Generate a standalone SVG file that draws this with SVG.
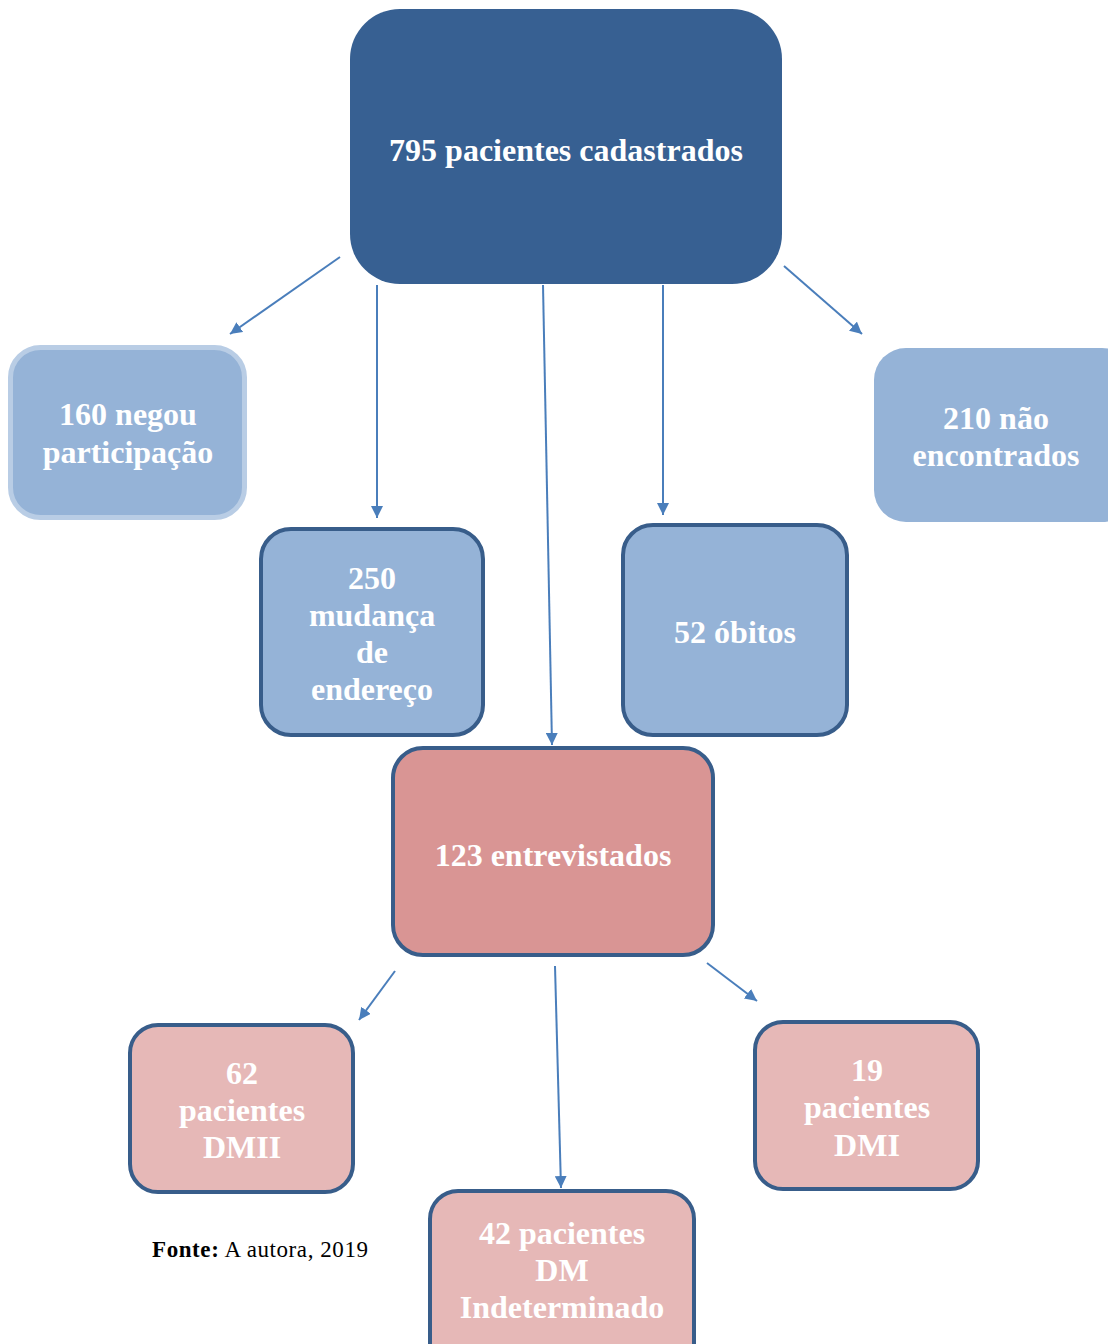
<svg xmlns="http://www.w3.org/2000/svg" width="1108" height="1344" viewBox="0 0 1108 1344">
<defs>
<marker id="ah" viewBox="0 0 10 10" refX="10" refY="5" markerWidth="6" markerHeight="6" orient="auto" markerUnits="strokeWidth">
<path d="M0,0 L10,5 L0,10 z" fill="#4A7EBB"/>
</marker>
<style>
.t{font-family:"Liberation Serif","Times New Roman",serif;font-weight:bold;font-size:32px;fill:#ffffff;text-anchor:middle}
.blue{fill:#95B3D7}
.pinkd{fill:#D99594}
.pink{fill:#E6B8B7}
.bd{stroke:#385D8A;stroke-width:4}
.c{stroke:#4A7EBB;stroke-width:2;fill:none;marker-end:url(#ah)}
</style>
</defs>
<rect width="1108" height="1344" fill="#ffffff"/>
<g id="connectors">
<line class="c" x1="340" y1="257" x2="230" y2="334"/>
<line class="c" x1="377" y1="285" x2="377" y2="518"/>
<line class="c" x1="543" y1="285" x2="552" y2="745"/>
<line class="c" x1="663" y1="285" x2="663" y2="515"/>
<line class="c" x1="784" y1="266" x2="862" y2="334"/>
<line class="c" x1="395" y1="971" x2="359" y2="1020"/>
<line class="c" x1="555" y1="966" x2="561" y2="1188"/>
<line class="c" x1="707" y1="963" x2="757" y2="1001"/>
</g>
<g id="n795">
<rect x="350" y="9" width="432" height="275" rx="50" fill="#376092"/>
<text class="t" x="566" y="161">795 pacientes cadastrados</text>
</g>
<g id="n160">
<rect x="10.5" y="347.5" width="234" height="170" rx="30" class="blue" stroke="#B9CDE5" stroke-width="5"/>
<text class="t" x="128" y="425">160 negou</text>
<text class="t" x="128" y="463">participação</text>
</g>
<g id="n210">
<rect x="874" y="348" width="260" height="174" rx="32" class="blue"/>
<text class="t" x="996" y="429">210 não</text>
<text class="t" x="996" y="466">encontrados</text>
</g>
<g id="n250">
<rect x="261" y="529" width="222" height="206" rx="30" class="blue bd"/>
<text class="t" x="372" y="589">250</text>
<text class="t" x="372" y="626">mudança</text>
<text class="t" x="372" y="663">de</text>
<text class="t" x="372" y="700">endereço</text>
</g>
<g id="n52">
<rect x="623" y="525" width="224" height="210" rx="30" class="blue bd"/>
<text class="t" x="735" y="643">52 óbitos</text>
</g>
<g id="n123">
<rect x="393" y="748" width="320" height="207" rx="30" class="pinkd bd"/>
<text class="t" x="553" y="866">123 entrevistados</text>
</g>
<g id="n62">
<rect x="130" y="1025" width="223" height="167" rx="28" class="pink bd"/>
<text class="t" x="242" y="1084">62</text>
<text class="t" x="242" y="1121">pacientes</text>
<text class="t" x="242" y="1158">DMII</text>
</g>
<g id="n19">
<rect x="755" y="1022" width="223" height="167" rx="28" class="pink bd"/>
<text class="t" x="867" y="1081">19</text>
<text class="t" x="867" y="1118">pacientes</text>
<text class="t" x="867" y="1156">DMI</text>
</g>
<g id="n42">
<rect x="430" y="1191" width="264" height="180" rx="28" class="pink bd"/>
<text class="t" x="562" y="1244">42 pacientes</text>
<text class="t" x="562" y="1281">DM</text>
<text class="t" x="562" y="1318">Indeterminado</text>
</g>
<text x="152" y="1257" font-family="'Liberation Serif','Times New Roman',serif" font-size="23" fill="#000000" textLength="216" lengthAdjust="spacing"><tspan font-weight="bold">Fonte:</tspan> A autora, 2019</text>
</svg>
